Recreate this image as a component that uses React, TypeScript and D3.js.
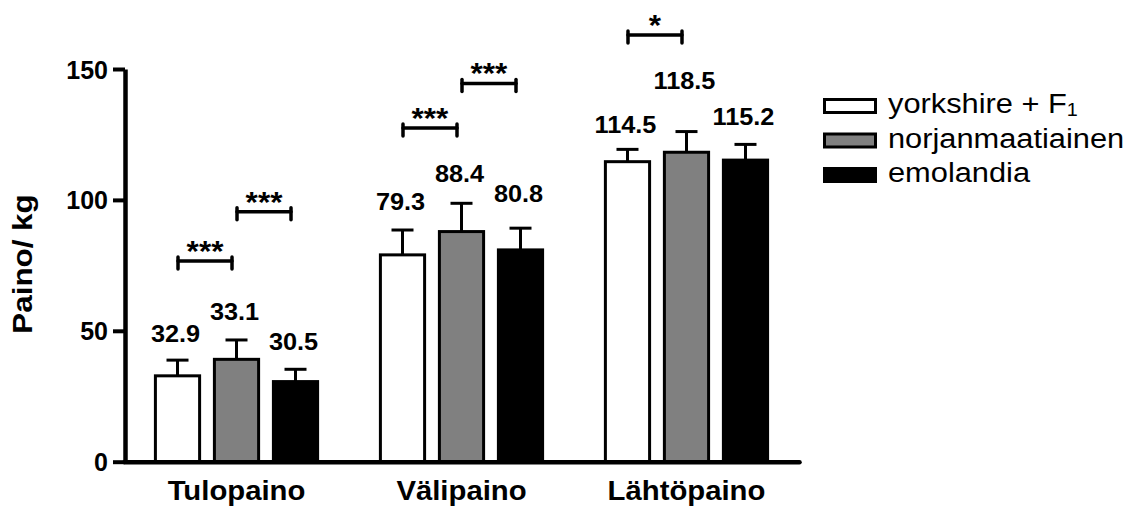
import * as d3 from "d3";
import { useEffect, useRef } from "react";

// groups on the x axis
const categories = ["Tulopaino", "Välipaino", "Lähtöpaino"];

// series (legend); the first one has a subscript "1"
const seriesNames = ["yorkshire + F", "norjanmaatiainen", "emolandia"];
const seriesSub = ["1", "", ""];
const seriesFill = ["#ffffff", "#808080", "#000000"];

// bar heights (kg) per series, in category order
const yorkshire = [32.8, 79.0, 114.6];
const norjanmaatiainen = [39.1, 87.9, 118.2];
const emolandia = [30.6, 80.9, 115.2];

// upper error bar length (SD)
const yorkshireSd = [6.0, 9.5, 4.7];
const norjanmaatiainenSd = [7.4, 10.8, 7.9];
const emolandiaSd = [4.7, 8.3, 6.0];

// printed value labels and the level (kg) where their baseline sits
const yorkshireLabel = ["32.9", "79.3", "114.5"];
const norjanmaatiainenLabel = ["33.1", "88.4", "118.5"];
const emolandiaLabel = ["30.5", "80.8", "115.2"];
const yorkshireLabelAt = [45.8, 96.1, 125.4];
const norjanmaatiainenLabelAt = [54.1, 107, 142.2];
const emolandiaLabelAt = [42.7, 99.3, 128.5];

// significance brackets: group, from series, to series, level (kg), stars
const sigGroup = ["Tulopaino", "Tulopaino", "Välipaino", "Välipaino", "Lähtöpaino"];
const sigFrom = [0, 1, 0, 1, 0];
const sigTo = [1, 2, 1, 2, 1];
const sigLevel = [76.7, 95.5, 127.5, 144.5, 163];
const sigStars = ["***", "***", "***", "***", "*"];

const yTicks = [0, 50, 100, 150];

const values = [yorkshire, norjanmaatiainen, emolandia];
const sds = [yorkshireSd, norjanmaatiainenSd, emolandiaSd];
const labels = [yorkshireLabel, norjanmaatiainenLabel, emolandiaLabel];
const labelAt = [yorkshireLabelAt, norjanmaatiainenLabelAt, emolandiaLabelAt];

const FONT = "'Liberation Sans', Arial, Helvetica, sans-serif";

export default function App() {
  const ref = useRef<SVGSVGElement | null>(null);

  useEffect(() => {
    const svg = d3.select(ref.current);
    svg.selectAll("*").remove();

    const width = 1147, height = 508;
    svg.attr("width", width).attr("height", height);

    const y = d3.scaleLinear().domain([0, 150]).range([461.7, 69]);

    const x0 = d3.scaleBand<string>()
      .domain(categories)
      .range([124, 799])
      .paddingInner(0.2133)
      .paddingOuter(0.1067);

    const x1 = d3.scaleBand<number>()
      .domain(d3.range(seriesNames.length))
      .range([0, x0.bandwidth()])
      .paddingInner(0.2)
      .paddingOuter(0.1);

    const barCenter = (c: string, i: number) => (x0(c) as number) + (x1(i) as number) + x1.bandwidth() / 2;

    // Bars
    const rows = categories.flatMap((c, ci) =>
      seriesNames.map((_, si) => ({ c, si, v: values[si][ci], sd: sds[si][ci], label: labels[si][ci], at: labelAt[si][ci] }))
    );

    svg.append("g")
      .selectAll("rect")
      .data(rows)
      .join("rect")
      .attr("x", d => (x0(d.c) as number) + (x1(d.si) as number) + 1.5)
      .attr("y", d => y(d.v))
      .attr("width", x1.bandwidth() - 3)
      .attr("height", d => y(0) - y(d.v))
      .attr("fill", d => seriesFill[d.si])
      .attr("stroke", "#000")
      .attr("stroke-width", 3);

    // Error bars (upper only)
    const err = svg.append("g").attr("stroke", "#000").attr("stroke-width", 3);
    err.selectAll("line.v")
      .data(rows)
      .join("line")
      .attr("class", "v")
      .attr("x1", d => barCenter(d.c, d.si))
      .attr("x2", d => barCenter(d.c, d.si))
      .attr("y1", d => y(d.v))
      .attr("y2", d => y(d.v + d.sd));
    err.selectAll("line.cap")
      .data(rows)
      .join("line")
      .attr("class", "cap")
      .attr("x1", d => barCenter(d.c, d.si) - 11)
      .attr("x2", d => barCenter(d.c, d.si) + 11)
      .attr("y1", d => y(d.v + d.sd))
      .attr("y2", d => y(d.v + d.sd));

    // Value labels
    svg.append("g")
      .selectAll("text")
      .data(rows)
      .join("text")
      .attr("transform", d => `translate(${barCenter(d.c, d.si) - 2},${y(d.at)}) scale(1.1,1)`)
      .attr("text-anchor", "middle")
      .style("font-family", FONT)
      .style("font-weight", "bold")
      .style("font-size", "23px")
      .text(d => d.label);

    // Significance brackets
    const sig = sigGroup.map((g, i) => {
      const a = barCenter(g, sigFrom[i]);
      const b = barCenter(g, sigTo[i]);
      const mid = (a + b) / 2 - 2;
      return { l: mid - 27, r: mid + 27, mid, yy: y(sigLevel[i]), stars: sigStars[i] };
    });
    const br = svg.append("g")
      .attr("stroke", "#000")
      .attr("stroke-width", 3.5)
      .attr("stroke-linecap", "round")
      .attr("fill", "none");
    sig.forEach(s => {
      br.append("line").attr("x1", s.l).attr("x2", s.r).attr("y1", s.yy).attr("y2", s.yy);
      br.append("line").attr("x1", s.l).attr("x2", s.l).attr("y1", s.yy - 4).attr("y2", s.yy + 8);
      br.append("line").attr("x1", s.r).attr("x2", s.r).attr("y1", s.yy - 4).attr("y2", s.yy + 8);
    });
    svg.append("g")
      .selectAll("text")
      .data(sig)
      .join("text")
      .attr("transform", d => `translate(${d.mid},${d.yy}) scale(1.05,1)`)
      .attr("text-anchor", "middle")
      .style("font-family", FONT)
      .style("font-weight", "bold")
      .style("font-size", "30px")
      .text(d => d.stars);

    // Y axis
    const yAxis = svg.append("g")
      .attr("transform", "translate(125,0)")
      .call(d3.axisLeft(y).tickValues(yTicks).tickSize(12).tickSizeOuter(0).tickPadding(5));
    yAxis.select(".domain").attr("stroke", "#000").attr("stroke-width", 4.5);
    yAxis.selectAll(".tick line").attr("stroke", "#000").attr("stroke-width", 4);
    yAxis.selectAll(".tick text")
      .attr("dy", "0.36em")
      .style("font-family", FONT)
      .style("font-weight", "bold")
      .style("font-size", "25px")
      .attr("fill", "#000");

    // X axis
    const xAxis = svg.append("g")
      .attr("transform", `translate(0,${y(0)})`)
      .call(d3.axisBottom(x0).tickSize(0).tickSizeOuter(0));
    xAxis.select(".domain").attr("stroke", "#000").attr("stroke-width", 4.5).attr("stroke-linecap", "round");
    xAxis.selectAll(".tick text")
      .attr("y", 500 - y(0))
      .attr("dy", 0)
      .attr("transform", "scale(1.085,1)")
      .style("font-family", FONT)
      .style("font-weight", "bold")
      .style("font-size", "27px")
      .attr("fill", "#000");

    // Y label
    svg.append("text")
      .attr("transform", `translate(32,264) rotate(-90) scale(1.12,1)`)
      .attr("text-anchor", "middle")
      .style("font-family", FONT)
      .style("font-weight", "bold")
      .style("font-size", "28px")
      .text("Paino/ kg");

    // Legend
    const legend = svg.append("g")
      .selectAll("g")
      .data(seriesNames)
      .join("g")
      .attr("transform", (_, i) => `translate(0,${98 + i * 34.5})`);
    legend.append("rect")
      .attr("x", 824.5)
      .attr("y", 1.5)
      .attr("width", 51)
      .attr("height", 13)
      .attr("fill", (_, i) => seriesFill[i])
      .attr("stroke", "#000")
      .attr("stroke-width", 3);
    const lt = legend.append("text")
      .attr("transform", "translate(888,15) scale(1.1,1)")
      .style("font-family", FONT)
      .style("font-size", "28px")
      .attr("fill", "#000");
    lt.append("tspan").text(d => d);
    lt.append("tspan")
      .attr("dy", 3)
      .style("font-size", "18px")
      .text((_, i) => seriesSub[i]);
  }, []);

  return (
    <svg ref={ref} style={{ position: "absolute", left: 0, top: 0, background: "#fff" }} />
  );
}
